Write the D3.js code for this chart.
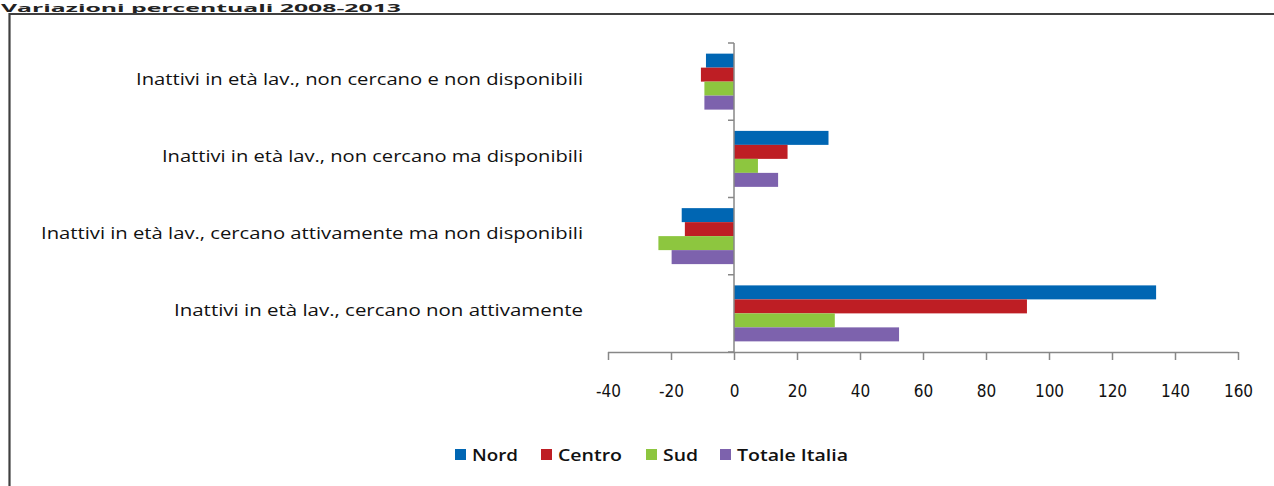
<!DOCTYPE html>
<html><head><meta charset="utf-8">
<script src="https://cdn.jsdelivr.net/npm/d3@7"></script>
<style>body{margin:0;background:#fff}svg{display:block}</style>
</head><body>
<script>
const categories = [
  "Inattivi in età lav., non cercano e non disponibili",
  "Inattivi in età lav., non cercano ma disponibili",
  "Inattivi in età lav., cercano attivamente ma non disponibili",
  "Inattivi in età lav., cercano non attivamente"
];
const seriesNames = ["Nord", "Centro", "Sud", "Totale Italia"];
const nord   = [-8.9, 30.0, -16.6, 134.0];
const centro = [-10.5, 17.0, -15.6, 93.0];
const sud    = [-9.4, 7.6, -24.0, 32.0];
const totale = [-9.4, 14.0, -19.8, 52.4];
const colors = ["#0066B3", "#BE1E24", "#8DC63F", "#7D62AD"];
const xTicks = [-40, -20, 0, 20, 40, 60, 80, 100, 120, 140, 160];
const title = "Variazioni percentuali 2008-2013";

const values = [nord, centro, sud, totale];
const W = 1274, H = 486;
const svg = d3.select("body").append("svg").attr("width", W).attr("height", H);

// title
svg.append("text").attr("x", 1).attr("y", 11.5).text(title)
  .attr("font-family", "'Open Sans', 'DejaVu Sans', sans-serif")
  .attr("font-weight", "bold").attr("font-size", 10.5).attr("fill", "#222")
  .attr("textLength", 400).attr("lengthAdjust", "spacingAndGlyphs");

// frame
svg.append("path").attr("d", `M9.5,${H} V14 H${W}`)
  .attr("fill", "none").attr("stroke", "#404040").attr("stroke-width", 2.2);

const x = d3.scaleLinear().domain([-40, 160]).range([608, 1238]);
const y = d3.scaleBand().domain(categories).range([43, 352]);
const yInner = d3.scaleBand().domain(seriesNames).range([0, y.bandwidth()]).paddingOuter(0.76).paddingInner(0);

const axisColor = "#878787";
// bars
seriesNames.forEach((s, si) => {
  svg.append("g").selectAll("rect").data(categories).join("rect")
    .attr("x", (c, i) => x(Math.min(0, values[si][i])))
    .attr("width", (c, i) => Math.abs(x(values[si][i]) - x(0)))
    .attr("y", c => y(c) + yInner(s))
    .attr("height", yInner.bandwidth())
    .attr("fill", colors[si]);
});

// x axis
const xa = svg.append("g").attr("transform", "translate(0,352)")
  .call(d3.axisBottom(x).tickValues(xTicks).tickSize(8).tickPadding(25).tickFormat(d3.format("d")));
xa.select(".domain").attr("stroke", axisColor).attr("stroke-width", 1.5).attr("d", "M608,0.5H1238");
xa.selectAll(".tick line").attr("stroke", axisColor).attr("stroke-width", 1.5);
xa.selectAll(".tick text").attr("fill", "#111").attr("font-size", 17)
  .attr("font-family", "'Liberation Sans Narrow', 'DejaVu Sans Condensed', sans-serif")
  .text(d => d < 0 ? "-" + Math.abs(d) : d);

// y axis
const ya = svg.append("g").attr("transform", `translate(${x(0)},0)`);
ya.append("line").attr("x1", 0).attr("x2", 0).attr("y1", 43).attr("y2", 352)
  .attr("stroke", axisColor).attr("stroke-width", 1.5);
const bounds = categories.map(c => y(c)).concat([352]);
ya.selectAll("line.t").data(bounds).join("line").attr("class", "t")
  .attr("x1", -6).attr("x2", 0).attr("y1", d => d).attr("y2", d => d)
  .attr("stroke", axisColor).attr("stroke-width", 1.5);

// category labels
const labelWidths = [447, 421, 542, 409];
svg.append("g").selectAll("text").data(categories).join("text")
  .attr("x", 583).attr("y", c => y(c) + y.bandwidth() / 2 + 3)
  .attr("text-anchor", "end")
  .attr("font-family", "'Open Sans', 'DejaVu Sans', sans-serif")
  .attr("font-size", 16).attr("fill", "#111")
  .attr("textLength", (c, i) => labelWidths[i]).attr("lengthAdjust", "spacingAndGlyphs")
  .text(c => c);

// legend
const legX = [455, 541, 646, 720];
const legW = [46, 64, 35, 111];
const lg = svg.append("g");
seriesNames.forEach((s, i) => {
  lg.append("rect").attr("x", legX[i]).attr("y", 449).attr("width", 11).attr("height", 11).attr("fill", colors[i]);
  lg.append("text").attr("x", legX[i] + 17).attr("y", 461).text(s)
    .attr("font-family", "'Open Sans', 'DejaVu Sans', sans-serif").attr("font-weight", 600)
    .attr("font-size", 16).attr("fill", "#111")
    .attr("textLength", legW[i]).attr("lengthAdjust", "spacingAndGlyphs");
});
</script>
</body></html>
